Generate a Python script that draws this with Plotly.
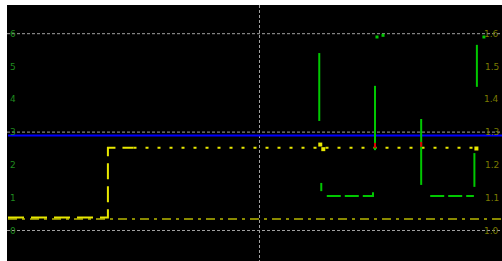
import plotly.graph_objects as go

# ---- data ----
x_max = 9.84
blue_level = 2.9
olive_level = 0.35

yellow_step_x = [0.0, 1.99, 1.99, 2.5]
yellow_step_y = [0.40, 0.40, 2.52, 2.52]
yellow_dots_x = [2.5, 9.4]
yellow_dots_y = [2.52, 2.52]
yellow_marks_x = [6.22, 6.28, 9.33]
yellow_marks_y = [2.62, 2.48, 2.5]

green_v_x = [6.20, 6.20, None, 7.31, 7.31, None, 8.23, 8.23, None, 9.34, 9.34, None, 9.29, 9.29]
green_v_y = [5.41, 3.34, None, 4.41, 2.45, None, 3.40, 1.39, None, 5.66, 4.38, None, 2.36, 1.33]
green_h_x = [6.24, 6.24, None, 6.35, 7.27, 7.27, None, 8.41, 9.28]
green_h_y = [1.45, 1.20, None, 1.05, 1.05, 1.23, None, 1.05, 1.05]
green_dot_x = [7.35, 7.47, 9.48]
green_dot_y = [5.9, 5.95, 5.9]
red_x = [7.31, 7.31, None, 8.23, 8.23]
red_y = [2.67, 2.52, None, 2.70, 2.55]

left_ticks = [0, 1, 2, 3, 4, 5, 6]
left_labels = ["0", "1", "2", "3", "4", "5", "6"]
right_labels = ["1.0", "1.1", "1.2", "1.3", "1.4", "1.5", "1.6"]

fig = go.Figure()
fig.add_trace(go.Scatter(x=[0, x_max], y=[olive_level, olive_level], mode="lines",
                         line=dict(color="#8a8a00", width=2, dash="9px,5px,3px,5px")))
fig.add_trace(go.Scatter(x=[0, x_max], y=[blue_level, blue_level], mode="lines",
                         line=dict(color="#0000ff", width=2)))
fig.add_trace(go.Scatter(x=yellow_step_x, y=yellow_step_y, mode="lines",
                         line=dict(color="#e8e800", width=2, dash="16px,7px")))
fig.add_trace(go.Scatter(x=yellow_dots_x, y=yellow_dots_y, mode="lines",
                         line=dict(color="#e8e800", width=2, dash="3px,9px")))
fig.add_trace(go.Scatter(x=yellow_marks_x, y=yellow_marks_y, mode="markers",
                         marker=dict(color="#e8e800", size=4, symbol="square")))
fig.add_trace(go.Scatter(x=green_v_x, y=green_v_y, mode="lines",
                         line=dict(color="#00c800", width=2)))
fig.add_trace(go.Scatter(x=green_h_x, y=green_h_y, mode="lines",
                         line=dict(color="#00c800", width=2, dash="14px,4px")))
fig.add_trace(go.Scatter(x=green_dot_x, y=green_dot_y, mode="markers",
                         marker=dict(color="#00c800", size=3, symbol="square")))
fig.add_trace(go.Scatter(x=red_x, y=red_y, mode="lines",
                         line=dict(color="#e00000", width=2)))

yr = [-0.93, 6.875]
fig.update_layout(
    width=502, height=261,
    margin=dict(l=7, r=0, t=5, b=0, pad=0),
    paper_bgcolor="white", plot_bgcolor="black",
    showlegend=False,
    xaxis=dict(range=[-0.02, x_max], showticklabels=False, ticks="",
               tickvals=[0, 5], showgrid=True, gridcolor="#a0a0a0",
               griddash="3px,2px", gridwidth=1, zeroline=False, showline=False,
               automargin=False),
    yaxis=dict(range=yr, tickvals=left_ticks, ticktext=left_labels,
               ticklabelposition="inside", ticks="",
               tickfont=dict(color="#1f8a1f", size=9, family="DejaVu Sans"),
               showgrid=False, zeroline=False, showline=False, automargin=False),
)
for gy in [0, 3, 6]:
    fig.add_shape(type="line", xref="paper", x0=0, x1=1, y0=gy, y1=gy,
                  line=dict(color="#a0a0a0", width=1, dash="3px,2px"), layer="below")
for tv, tl in zip(left_ticks, right_labels):
    fig.add_annotation(x=1, xref="paper", y=tv, yref="y", text=tl, showarrow=False,
                       xanchor="right", yanchor="middle", xshift=-1,
                       font=dict(color="#7a7a00", size=9, family="DejaVu Sans"))

fig.write_html("out.html", config={"displayModeBar": False},
               post_script="document.body.style.margin='0';document.body.style.overflow='hidden';")
